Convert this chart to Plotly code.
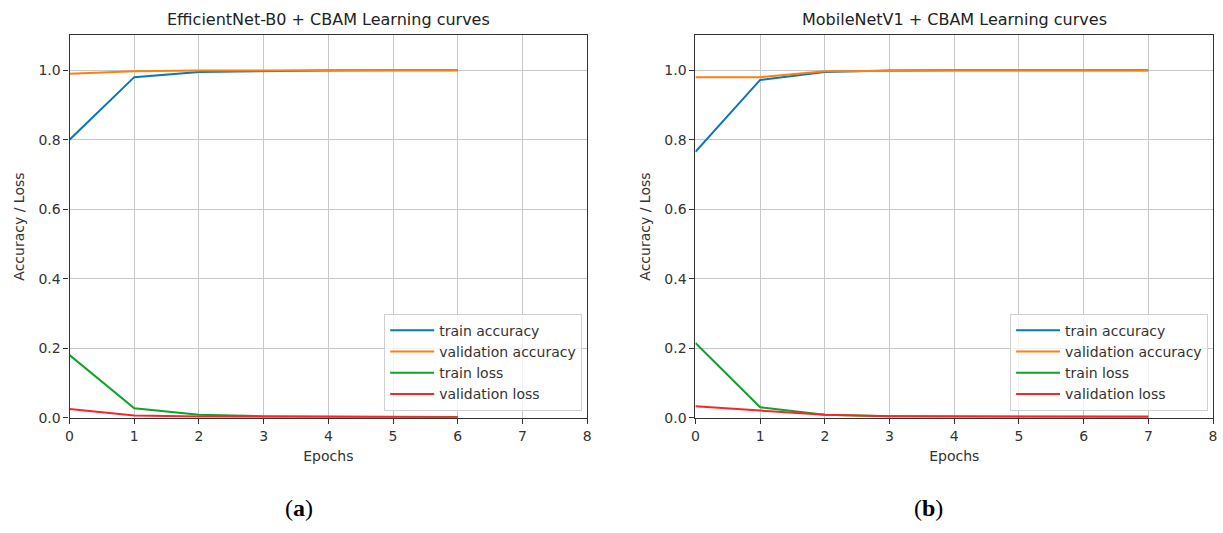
import plotly.graph_objects as go

# Data
epochs_a = [0, 1, 2, 3, 4, 5, 6]
train_acc_a = [0.80, 0.980, 0.995, 0.998, 0.999, 1.000, 1.000]
val_acc_a = [0.990, 0.997, 0.999, 1.000, 1.000, 1.000, 1.000]
train_loss_a = [0.180, 0.027, 0.008, 0.004, 0.003, 0.002, 0.002]
val_loss_a = [0.025, 0.006, 0.003, 0.002, 0.001, 0.001, 0.001]

epochs_b = [0, 1, 2, 3, 4, 5, 6, 7]
train_acc_b = [0.765, 0.972, 0.995, 0.999, 1.000, 1.000, 1.000, 1.000]
val_acc_b = [0.980, 0.980, 0.997, 0.999, 0.999, 0.999, 0.999, 0.999]
train_loss_b = [0.215, 0.030, 0.008, 0.004, 0.003, 0.002, 0.002, 0.002]
val_loss_b = [0.033, 0.020, 0.008, 0.004, 0.003, 0.003, 0.003, 0.003]

series_names = ["train accuracy", "validation accuracy", "train loss", "validation loss"]
colors = ["#0a77b8", "#ff7f0e", "#12a12a", "#ff2424"]
titles = ["EfficientNet-B0 + CBAM Learning curves", "MobileNetV1 + CBAM Learning curves"]
xticks = [0, 1, 2, 3, 4, 5, 6, 7, 8]
yticks = [0.0, 0.2, 0.4, 0.6, 0.8, 1.0]

fig = go.Figure()

panels = [
    (epochs_a, [train_acc_a, val_acc_a, train_loss_a, val_loss_a], "x", "y", "legend"),
    (epochs_b, [train_acc_b, val_acc_b, train_loss_b, val_loss_b], "x2", "y2", "legend2"),
]
for ep, ys, xa, ya, lg in panels:
    for name, col, yv in zip(series_names, colors, ys):
        fig.add_trace(go.Scatter(x=ep, y=yv, mode="lines", name=name,
                                 line=dict(color=col, width=2),
                                 xaxis=xa, yaxis=ya, legend=lg))

W, H = 1223, 533
ydom = [1 - 424 / H, 1 - 36 / H]
xdom1 = [66 / W, 587 / W]
xdom2 = [696 / W, 1217 / W]

axis_common = dict(showline=True, linecolor="#333333", linewidth=1.2, mirror=True,
                   ticks="outside", ticklen=5, tickcolor="#333333",
                   showgrid=True, gridcolor="#c8c8c8", gridwidth=1, zeroline=False,
                   tickfont=dict(family="DejaVu Sans", size=14, color="#333333"))

leg_common = dict(xanchor="right", yanchor="bottom",
                  bgcolor="rgba(255,255,255,0.8)", bordercolor="#d0d0d0", borderwidth=1,
                  font=dict(size=14, color="#333333"), tracegroupgap=0, itemwidth=44)

fig.update_layout(
    width=W, height=H,
    margin=dict(l=0, r=0, t=0, b=0),
    paper_bgcolor="white", plot_bgcolor="white",
    font=dict(family="DejaVu Sans", color="#333333"),
    xaxis=dict(domain=xdom1, range=[0, 8], tickvals=xticks, anchor="y",
               title=dict(text="Epochs", font=dict(size=14), standoff=8), **axis_common),
    yaxis=dict(domain=ydom, range=[0, 1.1], tickvals=yticks, tickformat=".1f", anchor="x",
               title=dict(text="Accuracy / Loss", font=dict(size=14), standoff=10), **axis_common),
    xaxis2=dict(domain=xdom2, range=[0, 8], tickvals=xticks, anchor="y2",
                title=dict(text="Epochs", font=dict(size=14), standoff=8), **axis_common),
    yaxis2=dict(domain=ydom, range=[0, 1.1], tickvals=yticks, tickformat=".1f", anchor="x2",
                title=dict(text="Accuracy / Loss", font=dict(size=14), standoff=10), **axis_common),
    legend=dict(x=582 / W, y=1 - 417 / H, **leg_common),
    legend2=dict(x=1212 / W, y=1 - 417 / H, **leg_common),
    showlegend=True,
)

annotations = []
for t, xd in zip(titles, [xdom1, xdom2]):
    annotations.append(dict(text=t, x=(xd[0] + xd[1]) / 2, y=1 - 20 / H, xref="paper", yref="paper",
                            xanchor="center", yanchor="middle", showarrow=False,
                            font=dict(size=16, family="DejaVu Sans", color="#222222")))
for lab, xc in [("a", 297), ("b", 931)]:
    annotations.append(dict(text="(<b>" + lab + "</b>)", x=xc / W, y=1 - 516 / H, xref="paper", yref="paper",
                            xanchor="center", yanchor="middle", showarrow=False,
                            font=dict(size=24, family="Liberation Serif", color="black")))
fig.update_layout(annotations=annotations)

fig.write_html("out.html")
